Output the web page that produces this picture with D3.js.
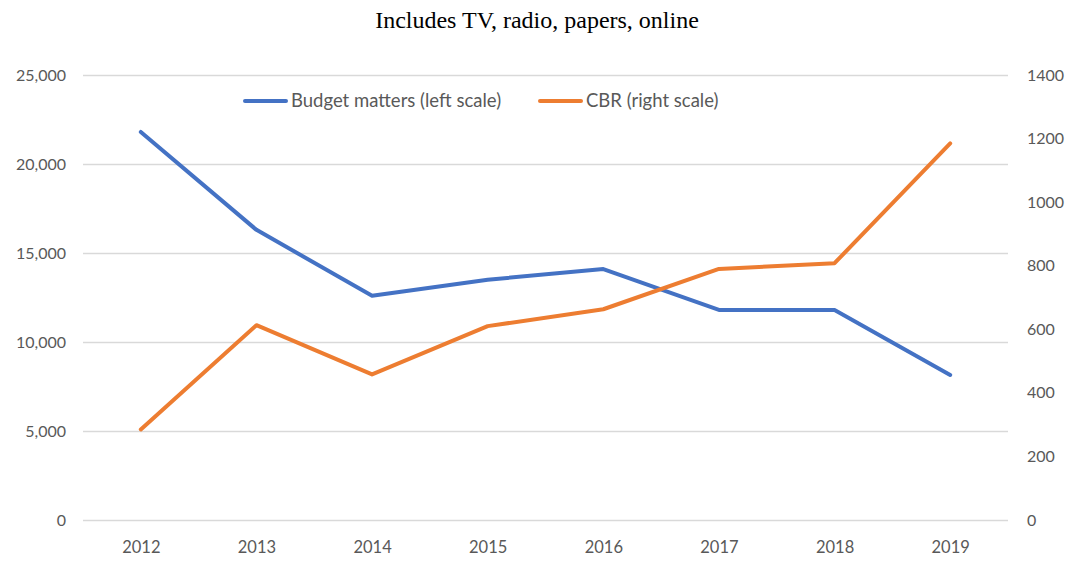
<!DOCTYPE html>
<html>
<head>
<meta charset="utf-8">
<script src="https://cdn.jsdelivr.net/npm/d3@7"></script>
<style>
  body { margin: 0; background: #fff; }
  text { font-family: Lato, "Open Sans", sans-serif; }
</style>
</head>
<body>
<svg></svg>
<script>
// chart data
const years = ['2012', '2013', '2014', '2015', '2016', '2017', '2018', '2019'];
const budgetMatters = [21800, 16300, 12600, 13500, 14100, 11800, 11800, 8150];
const cbr = [285, 613, 458, 610, 663, 790, 808, 1185];
const leftTicks = [0, 5000, 10000, 15000, 20000, 25000];
const rightTicks = [0, 200, 400, 600, 800, 1000, 1200, 1400];

const width = 1072;
const height = 561;
const plotLeft = 83, plotRight = 1008, plotTop = 75, plotBottom = 520;

const svg = d3.select('svg')
    .attr('width', width)
    .attr('height', height);

const xScale = d3.scalePoint()
    .domain(years)
    .range([plotLeft, plotRight])
    .padding(0.5);
const yLeft = d3.scaleLinear()
    .domain([0, 25000])
    .range([plotBottom, plotTop]);
const yRight = d3.scaleLinear()
    .domain([0, 1400])
    .range([plotBottom, plotTop]);

// gridlines + left axis
const leftAxis = d3.axisLeft(yLeft)
    .tickValues(leftTicks)
    .tickSize(-(plotRight - plotLeft))
    .tickPadding(17)
    .tickFormat(d3.format(','));
const gl = svg.append('g')
    .attr('transform', 'translate(' + plotLeft + ',0)')
    .call(leftAxis);
gl.select('.domain').remove();
gl.selectAll('line').attr('stroke', '#d9d9d9').attr('stroke-width', 1.3);
gl.selectAll('text').attr('fill', '#595959').attr('font-size', '16px');

// right axis
const rightAxis = d3.axisRight(yRight)
    .tickValues(rightTicks)
    .tickSize(0)
    .tickPadding(19)
    .tickFormat(d3.format('d'));
const gr = svg.append('g')
    .attr('transform', 'translate(' + plotRight + ',0)')
    .call(rightAxis);
gr.select('.domain').remove();
gr.selectAll('text').attr('fill', '#595959').attr('font-size', '16px');

// x axis
const xAxis = d3.axisBottom(xScale).tickSize(0).tickPadding(21);
const gx = svg.append('g')
    .attr('transform', 'translate(0,' + plotBottom + ')')
    .call(xAxis);
gx.select('.domain').remove();
gx.selectAll('text').attr('fill', '#595959').attr('font-size', '16.5px');

// lines
const leftLine = d3.line()
    .x((d, i) => xScale(years[i]))
    .y(d => yLeft(d));
const rightLine = d3.line()
    .x((d, i) => xScale(years[i]))
    .y(d => yRight(d));

svg.append('path')
    .datum(budgetMatters)
    .attr('fill', 'none')
    .attr('stroke', '#4472c4')
    .attr('stroke-width', 4)
    .attr('stroke-linecap', 'round')
    .attr('stroke-linejoin', 'round')
    .attr('d', leftLine);

svg.append('path')
    .datum(cbr)
    .attr('fill', 'none')
    .attr('stroke', '#ed7d31')
    .attr('stroke-width', 4)
    .attr('stroke-linecap', 'round')
    .attr('stroke-linejoin', 'round')
    .attr('d', rightLine);

// legend
const legendItems = [
    { label: 'Budget matters (left scale)', color: '#4472c4', x: 243 },
    { label: 'CBR (right scale)', color: '#ed7d31', x: 538 }
];
const lg = svg.append('g').selectAll('g')
    .data(legendItems)
    .enter()
    .append('g')
        .attr('transform', d => 'translate(' + d.x + ',101)');
lg.append('line')
    .attr('x1', 2).attr('x2', 43)
    .attr('stroke', d => d.color)
    .attr('stroke-width', 4)
    .attr('stroke-linecap', 'round');
lg.append('text')
    .attr('x', 48)
    .attr('dy', '0.35em')
    .attr('fill', '#595959')
    .attr('font-size', '18.5px')
    .text(d => d.label);

// title
svg.append('text')
    .attr('x', 537)
    .attr('y', 28)
    .style('text-anchor', 'middle')
    .style('font-family', '"Liberation Serif", "Times New Roman", serif')
    .attr('font-size', '24px')
    .attr('fill', '#000')
    .text('Includes TV, radio, papers, online');
</script>
</body>
</html>
